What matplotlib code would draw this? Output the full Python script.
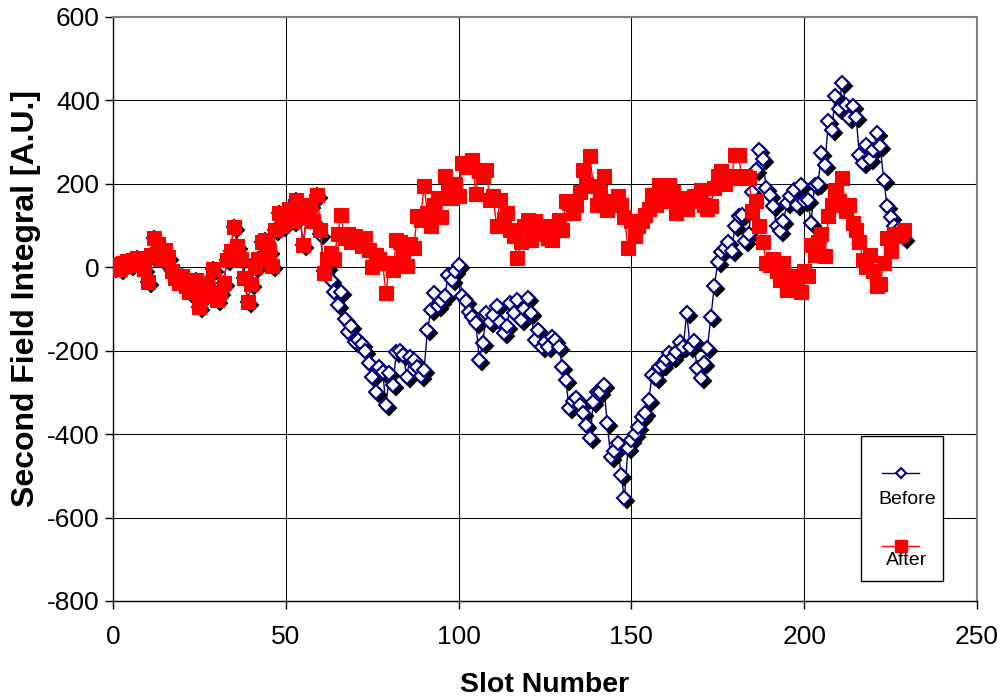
import matplotlib
matplotlib.use('Agg')
import matplotlib.pyplot as plt
from matplotlib.transforms import offset_copy
from matplotlib.patches import Rectangle

plt.rcParams['font.family'] = ['Liberation Sans', 'DejaVu Sans']
plt.rcParams['axes.unicode_minus'] = False

# slot numbers 0..229
slots = list(range(230))

# first 60 slots were not touched, so both runs share them
shared_head = [0, 5, -5, 10, 15, 5, 18, 22, 10, -5,
               -35, 30, 70, 55, 20, 42, 25, -10, -25, -37,
               -20, -45, -60, -50, -30, -95, -70, -40, -62, -5,
               -78, -60, -38, 18, 40, 97, 50, 20, -25, -83,
               -40, 0, 20, 60, 66, 40, 2, 90, 130, 100,
               120, 140, 110, 162, 130, 54, 120, 150, 110, 174]

# slots 60..229
before_tail = [80, -10, 0, -30, -60, -90, -60, -125, -155, -140,
               -180, -175, -185, -200, -230, -263, -300, -240, -250, -330,
               -253, -282, -203, -200, -210, -262, -215, -222, -240, -260,
               -246, -150, -102, -62, -94, -80, -70, -18, -30, -10,
               6, -70, -80, -106, -120, -134, -222, -182, -110, -130,
               -115, -94, -130, -158, -140, -86, -110, -78, -126, -100,
               -74, -110, -174, -150, -190, -180, -190, -166, -174, -190,
               -238, -270, -338, -320, -314, -330, -350, -378, -410, -322,
               -298, -300, -282, -374, -454, -440, -422, -498, -554, -434,
               -414, -400, -382, -360, -350, -318, -258, -265, -240, -234,
               -220, -206, -215, -202, -178, -190, -110, -190, -176, -241,
               -265, -230, -194, -118, -46, 12, 36, 46, 60, 40,
               100, 122, 125, 62, 80, 180, 234, 282, 260, 190,
               174, 146, 100, 86, 110, 154, 170, 186, 150, 198,
               158, 162, 106, 198, 200, 274, 246, 350, 330, 410,
               380, 442, 390, 358, 386, 360, 270, 250, 292, 260,
               280, 322, 290, 210, 146, 120, 100, 90, 78, 70]

after_tail = [90, -13, 20, 35, 20, 80, 126, 70, 80, 60,
              75, 62, 50, 70, 42, 0, 30, 20, 10, -62,
              10, -6, 66, 60, 30, 2, 55, 46, 122, 114,
              194, 130, 100, 150, 167, 120, 218, 180, 165, 200,
              170, 250, 240, 250, 258, 175, 230, 220, 234, 162,
              170, 98, 162, 115, 130, 90, 74, 22, 60, 100,
              114, 65, 110, 80, 86, 100, 70, 66, 90, 114,
              90, 160, 154, 130, 150, 180, 234, 200, 266, 194,
              150, 180, 218, 138, 160, 150, 170, 150, 120, 46,
              110, 74, 100, 110, 126, 140, 174, 150, 198, 170,
              160, 198, 180, 130, 150, 166, 140, 160, 170, 162,
              186, 150, 140, 146, 190, 218, 230, 200, 215, 220,
              270, 268, 215, 220, 214, 134, 160, 98, 60, 10,
              6, 20, -8, -30, 10, -54, -20, -40, -54, -60,
              -10, -20, 54, 30, 60, 80, 26, 122, 150, 186,
              160, 214, 134, 150, 106, 90, 60, 18, 0, 30,
              -10, -46, -40, 10, 70, 40, 80, 74, 80, 90]

before = shared_head + before_tail
after = shared_head + after_tail

navy = '#000080'

fig = plt.figure(figsize=(10.02, 6.98), dpi=100)
ax = fig.add_axes([113 / 1002, 97 / 698, 864 / 1002, 584 / 698])

# drop shadow for the diamonds
shadow = offset_copy(ax.transData, fig=fig, x=3, y=-3, units='dots')

ax.plot(slots, before, color=navy, lw=1, zorder=3)
ax.plot(slots, before, ls='none', marker='D', ms=7, mfc='black', mec='black',
        mew=1.5, transform=shadow, zorder=3.1)
ax.plot(slots, before, ls='none', marker='D', ms=7, mfc='white', mec=navy,
        mew=1.5, zorder=3.2)
ax.plot(slots, after, color='red', lw=1, marker='s', ms=10.5, mfc='red', mec='red',
        mew=0.8, zorder=4)

ax.set_xlim(0, 250)
ax.set_ylim(-800, 600)
ax.set_xticks(range(0, 251, 50))
ax.set_yticks(range(-800, 601, 200))
ax.set_axisbelow(True)
ax.grid(True, color='black', lw=0.75)

for s in ('top', 'right'):
    ax.spines[s].set_color('#808080')
    ax.spines[s].set_linewidth(1.5)
for s in ('left', 'bottom'):
    ax.spines[s].set_color('black')
    ax.spines[s].set_linewidth(1)

ax.tick_params(direction='out', length=6, width=1, labelsize=19)
ax.tick_params(axis='x', pad=11)
ax.tick_params(axis='y', pad=3.5)

fig.text(545 / 1002, 1 - 692 / 698, 'Slot Number', ha='center', va='baseline',
         fontsize=20.5, fontweight='bold')
fig.text(26 / 1002, 1 - 299 / 698, 'Second Field Integral [A.U.]', ha='center',
         va='center', rotation=90, fontsize=23, fontweight='bold')

# legend box drawn by hand
ax.add_patch(Rectangle((0.8657, 0.0342), 0.0949, 0.2483, transform=ax.transAxes,
                       facecolor='white', edgecolor='black', lw=1, zorder=6))
ax.plot([0.890, 0.933], [0.219, 0.219], color=navy, lw=1, transform=ax.transAxes, zorder=7)
ax.plot([0.9115], [0.219], marker='D', ms=5, mfc='white', mec=navy, mew=1.5,
        transform=ax.transAxes, zorder=7)
ax.text(0.919, 0.173, 'Before', ha='center', va='center', fontsize=14,
        transform=ax.transAxes, zorder=7)
ax.plot([0.890, 0.933], [0.094, 0.094], color='red', lw=1, transform=ax.transAxes, zorder=7)
ax.plot([0.9115], [0.094], marker='s', ms=8, mfc='red', mec='red',
        transform=ax.transAxes, zorder=7)
ax.text(0.919, 0.070, 'After', ha='center', va='center', fontsize=14,
        transform=ax.transAxes, zorder=7)

fig.savefig('out.png', dpi=100)
